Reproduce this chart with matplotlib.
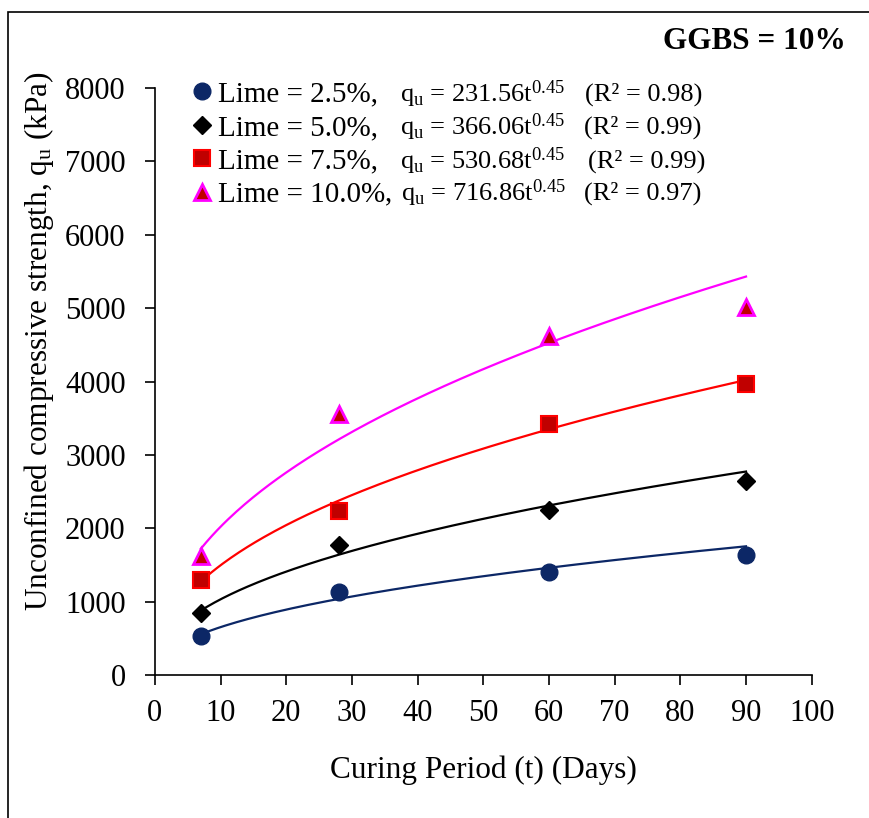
import numpy as np
import matplotlib
matplotlib.use("Agg")
import matplotlib.pyplot as plt
from matplotlib.patches import Rectangle

plt.rcParams['font.family'] = ['Liberation Serif', 'DejaVu Serif']
plt.rcParams['mathtext.fontset'] = 'custom'
plt.rcParams['mathtext.rm'] = 'Liberation Serif'
plt.rcParams['mathtext.it'] = 'Liberation Serif:italic'

# Measured strengths (kPa) at each curing period (days)
days = [7, 28, 60, 90]
lime_labels = ["Lime = 2.5%,", "Lime = 5.0%,", "Lime = 7.5%,", "Lime = 10.0%"]
qu_lime_2_5 = [530, 1130, 1400, 1640]
qu_lime_5_0 = [850, 1770, 2245, 2645]
qu_lime_7_5 = [1290, 2235, 3425, 3960]
qu_lime_10_0 = [1625, 3560, 4625, 5010]
# Power-law fits q_u = a * t^b
fit_a = [231.56, 366.06, 530.68, 716.86]
fit_b = [0.45, 0.45, 0.45, 0.45]
fit_r2 = [0.98, 0.99, 0.99, 0.97]

series = [qu_lime_2_5, qu_lime_5_0, qu_lime_7_5, qu_lime_10_0]
line_colors = ["#0c2766", "#000000", "#ff0000", "#ff00ff"]
marker_styles = [
    dict(marker='o', markersize=12, markerfacecolor="#0c2766", markeredgecolor="#0c2766"),
    dict(marker='D', markersize=9.5, markerfacecolor="#000000", markeredgecolor="#000000"),
    dict(marker='s', markersize=11, markerfacecolor="#c00000", markeredgecolor="#ff0000", markeredgewidth=1.5),
    dict(marker='^', markersize=11.5, markerfacecolor="#c00000", markeredgecolor="#ff00ff", markeredgewidth=2),
]

fig = plt.figure(figsize=(8.7, 8.18), dpi=100)
ax = fig.add_axes([0.178, 0.1748, 0.755, 0.7176])

t_fit = np.linspace(7, 90, 200)
handles = []
for vals, col, ms, a, b in zip(series, line_colors, marker_styles, fit_a, fit_b):
    ax.plot(t_fit, a * t_fit ** b, color=col, lw=1.6, zorder=2)
    h, = ax.plot(days, vals, linestyle='none', zorder=3, **ms)
    handles.append(h)

ax.set_xlim(0, 100)
ax.set_ylim(0, 8000)
ax.set_xticks(np.arange(0, 101, 10))
ax.set_yticks(np.arange(0, 8001, 1000))
ax.spines['top'].set_visible(False)
ax.spines['right'].set_visible(False)
for s in ('left', 'bottom'):
    ax.spines[s].set_linewidth(1.2)
ax.tick_params(axis='both', direction='out', length=7, width=1.2, labelsize=22)
ax.tick_params(axis='x', pad=10)
ax.tick_params(axis='y', pad=14)

ax.set_xlabel("Curing Period (t) (Days)", fontsize=22.5)
ax.xaxis.set_label_coords(0.5, -0.1365)
ax.set_ylabel(r"Unconfined compressive strength, $\mathrm{q_u}$ (kPa)", fontsize=22.5)
ax.yaxis.set_label_coords(-0.150, 0.569)

leg = ax.legend(handles, lime_labels, loc='upper left', bbox_to_anchor=(0.058, 1.0115),
                frameon=False, fontsize=21, handlelength=0.6, handletextpad=0.26,
                labelspacing=0.24, borderaxespad=0, borderpad=0)

# Fit equations beside each legend entry
eq_x = [0.373, 0.373, 0.373, 0.375]
r2_x = [0.6545, 0.653, 0.659, 0.653]
row_y = [0.9898, 0.9336, 0.8756, 0.8211]
for i in range(4):
    ax.text(eq_x[i], row_y[i], r"$\mathrm{q_u}$ = %.2f$\mathrm{t^{%.2f}}$" % (fit_a[i], fit_b[i]),
            transform=ax.transAxes, fontsize=19, va='center', ha='left')
    ax.text(r2_x[i], row_y[i], "(R² = %.2f)" % fit_r2[i],
            transform=ax.transAxes, fontsize=19, va='center', ha='left')
ax.text(0.351, row_y[3], ",", transform=ax.transAxes, fontsize=21, va='center', ha='left')

fig.text(0.972, 0.9487, "GGBS = 10%", fontsize=22.5, fontweight='bold', ha='right', va='center')

# Frame around the figure
fig.add_artist(Rectangle((8 / 870, -0.2), 1.5, 1 - 12 / 818 + 0.2, transform=fig.transFigure,
                         fill=False, edgecolor='black', linewidth=1.2))

fig.savefig("out.png", dpi=100)
